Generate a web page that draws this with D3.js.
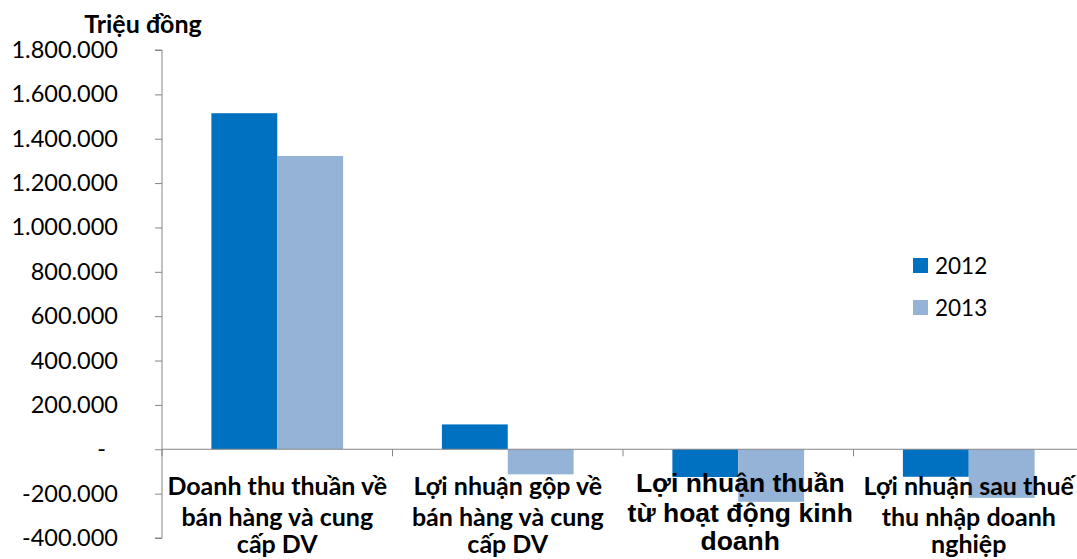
<!DOCTYPE html>
<html><head><meta charset="utf-8">
<script src="https://cdn.jsdelivr.net/npm/d3@7"></script>
<style>body{margin:0;background:#fff;} svg{display:block;}</style>
</head><body>
<svg id="c" width="1077" height="559"></svg>
<script>
const categories = [
  ["Doanh thu thuần về","bán hàng và cung","cấp DV"],
  ["Lợi nhuận gộp về","bán hàng và cung","cấp DV"],
  ["Lợi nhuận thuần","từ hoạt động kinh","doanh"],
  ["Lợi nhuận sau thuế","thu nhập doanh","nghiệp"]
];
const seriesNames = ["2012","2013"];
const values2012 = [1515000, 112000, -125000, -124000];
const values2013 = [1322000, -113000, -237000, -219000];
const yTicks = [1800000,1600000,1400000,1200000,1000000,800000,600000,400000,200000,0,-200000,-400000];
const colors = ["#0070C0","#95B3D7"];

(function(){
const svg = d3.select("#c");
const pl = 162, pr = 1084, pt = 50, pb = 538;
const y = d3.scaleLinear().domain([-400000,1800000]).range([pb, pt]);
const x = d3.scaleBand().domain(d3.range(categories.length)).range([pl, pr]).paddingInner(0.4286).paddingOuter(0.2143);
const xs = d3.scaleBand().domain(seriesNames).range([0, x.bandwidth()]);

const fmt = v => v === 0 ? "-" : (v < 0 ? "-" : "") + d3.format(",")(Math.abs(v)).replace(/,/g, ".");

const yAxis = d3.axisLeft(y).tickValues(yTicks).tickSize(7).tickPadding(37).tickFormat(fmt);
const gy = svg.append("g").attr("transform", `translate(${pl},0)`).call(yAxis);
gy.select(".domain").attr("stroke","#868686").attr("d", `M-7,${pt}H0V${pb}H-7`);
gy.selectAll(".tick line").attr("stroke","#868686");
gy.selectAll(".tick text").attr("font-family","Lato, sans-serif").attr("font-size","23.5px").attr("fill","#000")
  .attr("dx", d => d === 0 ? "-12px" : 0);

const data = [values2012, values2013];
data.forEach((vals, si) => {
  svg.append("g").selectAll("rect").data(vals).join("rect")
    .attr("x", (d,i) => x(i) + xs(seriesNames[si]))
    .attr("width", xs.bandwidth())
    .attr("y", d => y(Math.max(0,d)))
    .attr("height", d => Math.abs(y(d) - y(0)))
    .attr("fill", colors[si]);
});

const x0 = y(0);
svg.append("line").attr("x1", pl).attr("x2", 1077).attr("y1", x0).attr("y2", x0).attr("stroke","#868686").attr("stroke-width",1.2);
const bounds = d3.range(categories.length + 1).map(i => pl + i * (pr-pl)/categories.length);
svg.append("g").selectAll("line").data(bounds).join("line")
  .attr("x1", d=>d).attr("x2", d=>d).attr("y1", x0).attr("y2", x0 + 7).attr("stroke","#868686");

categories.forEach((lines, i) => {
  const cx = x(i) + x.bandwidth()/2;
  const big = i === 2;
  const t = svg.append("text").attr("text-anchor","middle")
    .attr("font-family", big ? "Liberation Sans, Arial, sans-serif" : "Lato, sans-serif")
    .attr("font-weight","bold").attr("font-size", big ? "26.5px" : "25px").attr("fill","#000");
  const base = big ? [492, 522, 550] : [495, 526, 553];
  lines.forEach((ln, k) => t.append("tspan").attr("x", cx + (big ? 2 : 0)).attr("y", base[k]).text(ln));
});

svg.append("text").attr("x", 143).attr("y", 33).attr("text-anchor","middle")
  .attr("font-family","Lato, sans-serif").attr("font-weight","bold").attr("font-size","25px").text("Triệu đồng");

const lg = svg.append("g");
seriesNames.forEach((s, i) => {
  const yy = 258 + i * 42;
  lg.append("rect").attr("x", 913).attr("y", yy).attr("width", 15).attr("height", 15).attr("fill", colors[i]);
  lg.append("text").attr("x", 935).attr("y", yy + 16).attr("font-family","Lato, sans-serif").attr("font-size","22.5px").text(s);
});
})();
</script>
</body></html>
